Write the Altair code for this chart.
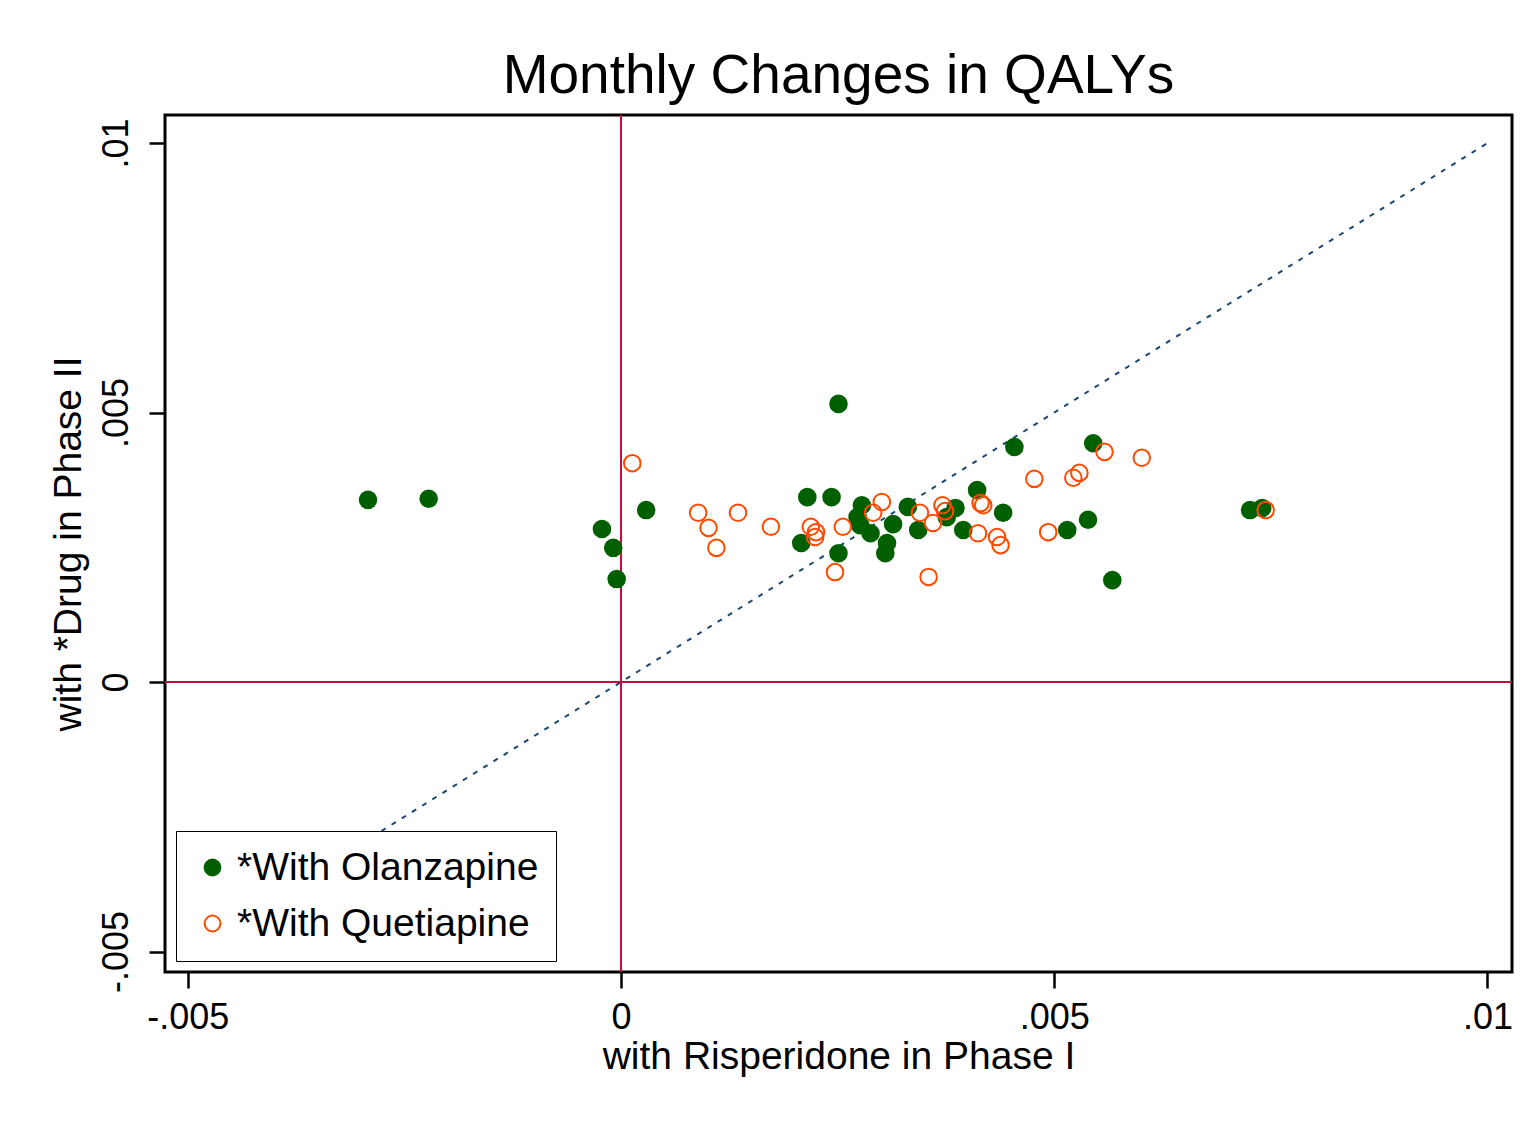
import altair as alt
import pandas as pd

# ---- data ----
SERIES = ["*With Olanzapine", "*With Quetiapine"]

OLZ_X = [-0.00292, -0.00222, -0.00022, -0.00009, -0.00005, 0.00029, 0.00251, 0.00215,
         0.00243, 0.00208, 0.00251, 0.00278, 0.00273, 0.00276, 0.00288, 0.00307,
         0.00305, 0.00314, 0.00331, 0.00343, 0.00376, 0.00386, 0.00411, 0.00395,
         0.00441, 0.00454, 0.00545, 0.00515, 0.00539, 0.00567, 0.00726, 0.00740]
OLZ_Y = [0.00338, 0.00340, 0.00284, 0.00249, 0.00191, 0.00319, 0.00516, 0.00343,
         0.00343, 0.00258, 0.00239, 0.00328, 0.00306, 0.00291, 0.00276, 0.00258,
         0.00239, 0.00293, 0.00325, 0.00282, 0.00306, 0.00323, 0.00356, 0.00282,
         0.00314, 0.00436, 0.00443, 0.00282, 0.00301, 0.00189, 0.00319, 0.00323]

QUE_X = [0.00013, 0.00089, 0.00101, 0.00110, 0.00135, 0.00173, 0.00219, 0.00225,
         0.00224, 0.00256, 0.00291, 0.00301, 0.00345, 0.00360, 0.00371, 0.00374,
         0.00415, 0.00418, 0.00412, 0.00434, 0.00438, 0.00247, 0.00355, 0.00477,
         0.00522, 0.00529, 0.00558, 0.00601, 0.00493, 0.00744]
QUE_Y = [0.00406, 0.00314, 0.00286, 0.00249, 0.00314, 0.00288, 0.00288, 0.00278,
         0.00269, 0.00288, 0.00314, 0.00334, 0.00314, 0.00295, 0.00328, 0.00317,
         0.00332, 0.00328, 0.00276, 0.00269, 0.00254, 0.00204, 0.00195, 0.00377,
         0.00379, 0.00388, 0.00427, 0.00416, 0.00278, 0.00319]

TICKS = [-0.005, 0, 0.005, 0.01]
TICK_LABELS = ["-.005", "0", ".005", ".01"]
X_DOMAIN = [-0.005263, 0.010283]
Y_DOMAIN = [-0.00538, 0.01052]
DIAG = [-0.005, 0.01]
REF = [0]

TITLE = "Monthly Changes in QALYs"
X_TITLE = "with Risperidone in Phase I"
Y_TITLE = "with *Drug in Phase II"

GREEN = "#006000"
ORANGE = "#ff4a00"
CRIMSON = "#c0103a"
NAVY = "#1c4673"
FONT = "Liberation Sans"

pts = pd.DataFrame({
    "x": OLZ_X + QUE_X,
    "y": OLZ_Y + QUE_Y,
    "drug": [SERIES[0]] * len(OLZ_X) + [SERIES[1]] * len(QUE_X),
})
diag = pd.DataFrame({"x": DIAG, "y": DIAG})
ref = pd.DataFrame({"x": REF, "y": REF})

label_expr = " : ".join(
    f"abs(datum.value - ({v})) < 1e-9 ? '{l}'" for v, l in zip(TICKS, TICK_LABELS)
) + " : ''"

xscale = alt.Scale(domain=X_DOMAIN, nice=False, zero=False)
yscale = alt.Scale(domain=Y_DOMAIN, nice=False, zero=False)

xaxis = alt.Axis(values=TICKS, labelExpr=label_expr, labelPadding=12,
                 titlePadding=2, labelBaseline="top", labelFlush=False)
yaxis = alt.Axis(values=TICKS, labelExpr=label_expr, labelAngle=270,
                 labelAlign="center", labelBaseline="alphabetic", labelPadding=22,
                 titlePadding=10, labelFlush=False)


def X():
    return alt.X("x:Q", scale=xscale, axis=xaxis, title=X_TITLE)


def Y():
    return alt.Y("y:Q", scale=yscale, axis=yaxis, title=Y_TITLE)


vrule = alt.Chart(ref).mark_rule(color=CRIMSON, strokeWidth=2).encode(x=X())
hrule = alt.Chart(ref).mark_rule(color=CRIMSON, strokeWidth=2).encode(y=Y())
diag_line = alt.Chart(diag).mark_line(color=NAVY, strokeWidth=2,
                                      strokeDash=[5, 7]).encode(x=X(), y=Y())

leg = alt.Legend(title=None, orient="bottom-left", offset=11, padding=17,
                 fillColor="white", strokeColor="black",
                 labelFontSize=39, labelFont=FONT, labelColor="black",
                 symbolSize=250, symbolStrokeWidth=2, symbolType="circle",
                 rowPadding=16, labelOffset=5, labelLimit=400)

points = alt.Chart(pts).mark_point(size=275, strokeWidth=2, opacity=1, shape="circle").encode(
    x=X(), y=Y(),
    stroke=alt.Stroke("drug:N", scale=alt.Scale(domain=SERIES, range=[GREEN, ORANGE]), legend=leg),
    fill=alt.Fill("drug:N", scale=alt.Scale(domain=SERIES, range=[GREEN, "transparent"]), legend=leg),
)

chart = alt.layer(vrule, hrule, diag_line, points).properties(
    width=1347, height=857,
    title=alt.TitleParams(TITLE, fontSize=55, font=FONT, fontWeight="normal",
                          color="black", anchor="middle", offset=9),
    autosize=alt.AutoSizeParams(type="none"),
    padding={"left": 157, "top": 107, "right": 10, "bottom": 140},
).configure(background="white").configure_view(
    stroke="black", strokeWidth=3
).configure_axis(
    domain=False, grid=False, tickColor="black", tickSize=16, tickWidth=2.5,
    labelFont=FONT, labelFontSize=36, labelColor="black",
    titleFont=FONT, titleFontSize=39, titleFontWeight="normal", titleColor="black",
)

chart.save("out.html", embed_options={"renderer": "svg", "actions": False})
